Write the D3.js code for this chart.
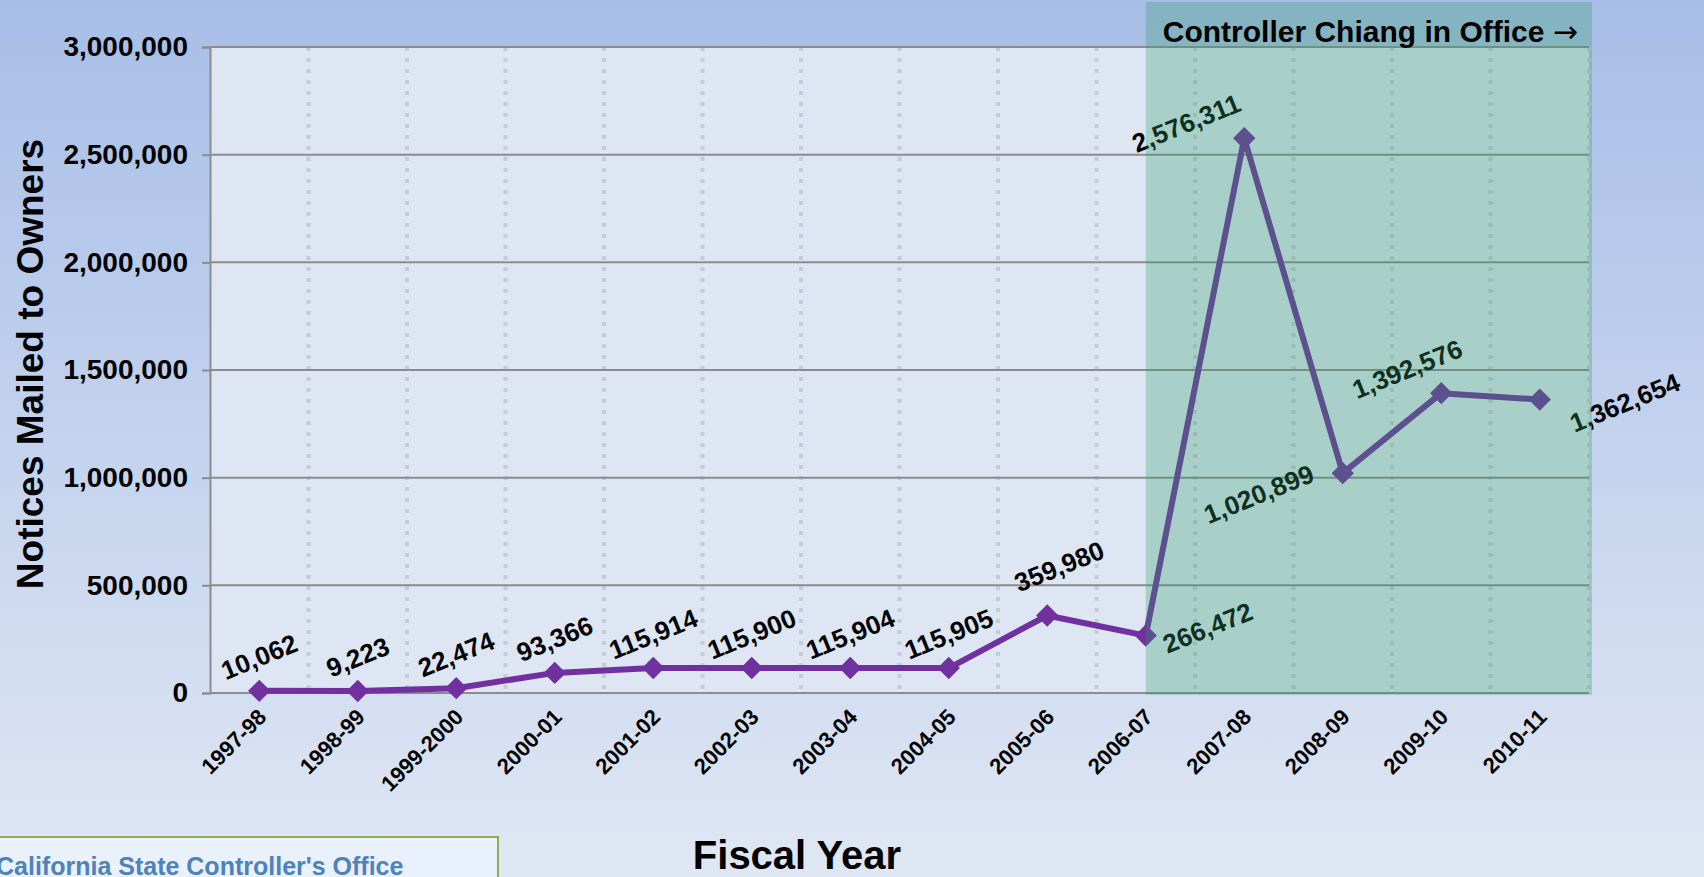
<!DOCTYPE html>
<html lang="en">
<head>
    <meta charset="utf-8">
    <script type="text/javascript" src="https://d3js.org/d3.v7.min.js"></script>
    <title>Notices Mailed to Owners by Fiscal Year</title>
    <style>
        html, body {
            margin: 0;
            padding: 0;
            width: 100%;
            height: 100%;
            overflow: hidden;
        }
        text {
            font-family: Arial, "Liberation Sans", sans-serif;
            font-weight: bold;
        }
    </style>
</head>
<body>
    <div id="chart"></div>

    <script type="text/javascript">

        // Data
        const fiscalYears = ["1997-98", "1998-99", "1999-2000", "2000-01", "2001-02", "2002-03", "2003-04",
                             "2004-05", "2005-06", "2006-07", "2007-08", "2008-09", "2009-10", "2010-11"];
        const notices = [10062, 9223, 22474, 93366, 115914, 115900, 115904,
                         115905, 359980, 266472, 2576311, 1020899, 1392576, 1362654];
        // where each value label sits around its point
        const labelPlacement = ["above", "above", "above", "above", "above", "above", "above",
                                "above", "aboveHigh", "right", "left", "belowLeft", "aboveLeft", "farRight"];
        const yTicks = [0, 500000, 1000000, 1500000, 2000000, 2500000, 3000000];
        const officeStartYear = "2006-07";

        const W = 1704, H = 877;
        const plot = {left: 210, right: 1589, top: 47, bottom: 693};

        const svg = d3.select("#chart")
            .append("svg")
            .attr("width", W)
            .attr("height", H);

        // Background gradient
        const defs = svg.append("defs");
        const grad = defs.append("linearGradient")
            .attr("id", "bg")
            .attr("x1", 0).attr("y1", 0).attr("x2", 0).attr("y2", 1);
        grad.append("stop").attr("offset", "0%").attr("stop-color", "#a7bee7");
        grad.append("stop").attr("offset", "100%").attr("stop-color", "#e0e7f4");

        svg.append("rect")
            .attr("width", W).attr("height", H)
            .attr("fill", "url(#bg)");

        // Scales
        const x = d3.scaleBand()
            .domain(fiscalYears)
            .range([plot.left, plot.right])
            .padding(0);
        const cx = d => x(d) + x.bandwidth() / 2;

        const y = d3.scaleLinear()
            .domain([0, 3000000])
            .range([plot.bottom, plot.top]);

        // Plot area
        svg.append("rect")
            .attr("x", plot.left).attr("y", plot.top)
            .attr("width", plot.right - plot.left)
            .attr("height", plot.bottom - plot.top)
            .attr("fill", "#dde6f2");

        // Dotted vertical gridlines at the category boundaries
        const boundaries = fiscalYears.slice(1).map(d => x(d)).concat([plot.right]);
        svg.append("g")
            .selectAll("line")
            .data(boundaries)
            .join("line")
                .attr("x1", d => d).attr("x2", d => d)
                .attr("y1", plot.top).attr("y2", plot.bottom)
                .attr("stroke", "#c6ccd4")
                .attr("stroke-width", 4)
                .attr("stroke-dasharray", "4,7");

        // Y axis with horizontal gridlines
        const yAxis = svg.append("g")
            .attr("transform", `translate(${plot.left},0)`)
            .call(d3.axisLeft(y).tickValues(yTicks).tickSize(8).tickPadding(14).tickFormat(d3.format(",")));
        yAxis.select(".domain").attr("stroke", "#8c8c8c").attr("stroke-width", 2);
        yAxis.selectAll(".tick line").attr("stroke", "#8c8c8c").attr("stroke-width", 2);
        yAxis.selectAll(".tick text")
            .attr("fill", "#000")
            .style("font-size", "28px");

        svg.append("g")
            .selectAll("line")
            .data(yTicks)
            .join("line")
                .attr("x1", plot.left).attr("x2", plot.right)
                .attr("y1", d => y(d)).attr("y2", d => y(d))
                .attr("stroke", "#8c8c8c")
                .attr("stroke-width", 2);

        // X axis labels (rotated)
        const xAxis = svg.append("g")
            .attr("transform", `translate(0,${plot.bottom})`)
            .call(d3.axisBottom(x).tickSize(0).tickPadding(0));
        xAxis.select(".domain").remove();
        xAxis.selectAll(".tick text")
            .attr("fill", "#000")
            .style("font-size", "22px")
            .attr("text-anchor", "end")
            .attr("dy", "0.35em")
            .attr("transform", "translate(3,20) rotate(-45)");

        // The line and markers
        const line = d3.line()
            .x((d, i) => cx(fiscalYears[i]))
            .y(d => y(d));

        svg.append("path")
            .datum(notices)
            .attr("d", line)
            .attr("fill", "none")
            .attr("stroke", "#7030a0")
            .attr("stroke-width", 6)
            .attr("stroke-linejoin", "round");

        svg.append("g")
            .selectAll("path")
            .data(notices)
            .join("path")
                .attr("d", d3.symbol(d3.symbolSquare, 250))
                .attr("transform", (d, i) => `translate(${cx(fiscalYears[i])},${y(d)}) rotate(45)`)
                .attr("fill", "#7030a0");

        // Value labels
        const labelOffset = {
            above: [0, -34],
            aboveHigh: [12, -49],
            right: [62, -8],
            farRight: [85, 3],
            left: [-58, -15],
            belowLeft: [-84, 21],
            aboveLeft: [-34, -24]
        };
        svg.append("g")
            .selectAll("text")
            .data(notices)
            .join("text")
                .attr("transform", (d, i) => {
                    const o = labelOffset[labelPlacement[i]];
                    return `translate(${cx(fiscalYears[i]) + o[0]},${y(d) + o[1]}) rotate(-22)`;
                })
                .attr("text-anchor", "middle")
                .attr("dy", "0.35em")
                .style("font-size", "26px")
                .attr("fill", "#000")
                .text(d => d3.format(",")(d));

        // Controller Chiang period shading (drawn over the chart)
        svg.append("rect")
            .attr("x", cx(officeStartYear))
            .attr("y", 2)
            .attr("width", plot.right + 3 - cx(officeStartYear))
            .attr("height", plot.bottom)
            .attr("fill", "#319c6b")
            .attr("opacity", 0.3);

        const officeLabel = svg.append("text")
            .attr("x", cx(officeStartYear) + 17)
            .attr("y", 42)
            .style("font-size", "30px")
            .attr("fill", "#000");
        officeLabel.append("tspan").text("Controller Chiang in Office ");
        officeLabel.append("tspan")
            .style("font-family", "'DejaVu Sans', sans-serif")
            .style("font-weight", "normal")
            .text("\u2192");

        // Axis titles
        svg.append("text")
            .attr("transform", `translate(43,364) rotate(-90)`)
            .attr("text-anchor", "middle")
            .style("font-size", "37px")
            .attr("fill", "#000")
            .text("Notices Mailed to Owners");

        svg.append("text")
            .attr("x", 797)
            .attr("y", 869)
            .attr("text-anchor", "middle")
            .style("font-size", "40px")
            .attr("fill", "#000")
            .text("Fiscal Year");

        // Source box, bottom left
        svg.append("rect")
            .attr("x", -4).attr("y", 837)
            .attr("width", 502).attr("height", 60)
            .attr("fill", "#e8f1fc")
            .attr("stroke", "#8fac4e")
            .attr("stroke-width", 2);

        svg.append("text")
            .attr("x", -4)
            .attr("y", 875)
            .style("font-size", "25px")
            .attr("fill", "#4f81bd")
            .text("California State Controller's Office");

    </script>
</body>
</html>
